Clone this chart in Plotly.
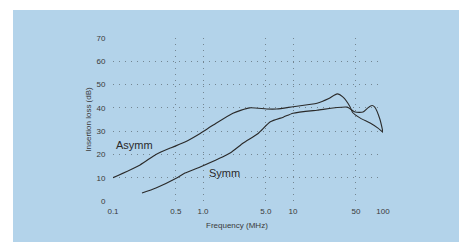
import math
import plotly.graph_objects as go

# Data
asymm_freq = [0.1, 0.2, 0.3, 0.45, 0.63, 0.93, 1.3, 2.15, 3.3, 5.1, 6.6, 10, 18.5, 25, 31, 36, 43, 46, 56, 72, 88, 100]
asymm_db = [10, 15.5, 20, 23, 25.3, 29, 32.6, 37.7, 40, 39.5, 39.5, 40.5, 42, 44, 46, 44.6, 40.5, 38, 35.6, 33.5, 31.3, 29.5]

symm_freq = [0.21, 0.3, 0.51, 0.63, 0.93, 2.0, 2.8, 4.1, 5.6, 7.8, 10, 18.5, 40, 49, 60, 68, 75.5, 81, 92.6, 100]
symm_db = [3.4, 5.6, 9.9, 12, 14.6, 20.6, 24.9, 29, 34, 36, 37.7, 39, 40.3, 38.2, 38.2, 40, 41, 40.3, 35, 29.5]

x_tickvals = [0.1, 0.5, 1.0, 5.0, 10, 50, 100]
x_ticktext = ["0.1", "0.5", "1.0", "5.0", "10", "50", "100"]
y_tickvals = [0, 10, 20, 30, 40, 50, 60, 70]

ink = "#2a2a2a"
txt = "#3a3a3a"
blue = "#b3d3ea"
grid = "rgba(40,40,40,0.45)"
FONT = "Liberation Sans, Arial"

fig = go.Figure()
fig.add_trace(go.Scatter(x=asymm_freq, y=asymm_db, mode="lines", name="Asymm",
                         line=dict(color=ink, width=1.1, shape="spline", smoothing=0.6)))
fig.add_trace(go.Scatter(x=symm_freq, y=symm_db, mode="lines", name="Symm",
                         line=dict(color=ink, width=1.1, shape="spline", smoothing=0.6)))

# page body has an 8px margin; positions below are in figure pixels
OFF = 8
L, R, T, B = 113 - OFF, 383 - OFF, 38 - OFF, 201 - OFF
W, H = 467, 242
pw, ph = R - L, B - T

def px(xp):
    return (xp - OFF - L) / pw

def py(yp):
    return (B - (yp - OFF)) / ph

fig.add_shape(type="rect", xref="paper", yref="paper",
              x0=px(13), x1=px(466), y0=py(250), y1=py(10),
              fillcolor=blue, line=dict(width=0), layer="below")

fig.add_annotation(x=math.log10(0.29), y=24, xref="x", yref="y", text="Asymm", showarrow=False,
                   xanchor="right", font=dict(size=11, color=ink, family=FONT))
fig.add_annotation(x=math.log10(1.12), y=12, xref="x", yref="y", text="Symm", showarrow=False,
                   xanchor="left", font=dict(size=11, color=ink, family=FONT))
fig.add_annotation(x=px(237), y=py(225), xref="paper", yref="paper", text="Frequency (MHz)",
                   showarrow=False, xanchor="center", yanchor="middle",
                   font=dict(size=8, color=txt, family=FONT))

fig.update_layout(
    width=W, height=H,
    margin=dict(l=L, r=W - R, t=T, b=H - B, pad=0),
    paper_bgcolor="white",
    plot_bgcolor="rgba(0,0,0,0)",
    showlegend=False,
    font=dict(family=FONT, size=8, color=txt),
)
fig.update_xaxes(type="log", range=[-1, 2], tickvals=x_tickvals, ticktext=x_ticktext,
                 showgrid=True, gridcolor=grid, griddash="1px,5px", gridwidth=1,
                 zeroline=False, showline=False, ticks="outside", ticklen=2, tickcolor="rgba(0,0,0,0)",
                 tickfont=dict(size=8, color=txt))
fig.update_yaxes(range=[0, 70], tickvals=y_tickvals,
                 showgrid=True, gridcolor=grid, griddash="1px,5px", gridwidth=1,
                 zeroline=False, showline=False, ticks="outside", ticklen=5, tickcolor="rgba(0,0,0,0)",
                 tickfont=dict(size=8, color=txt),
                 title=dict(text="Insertion loss (dB)", font=dict(size=8, color=txt), standoff=3))

fig.write_html("out.html")
